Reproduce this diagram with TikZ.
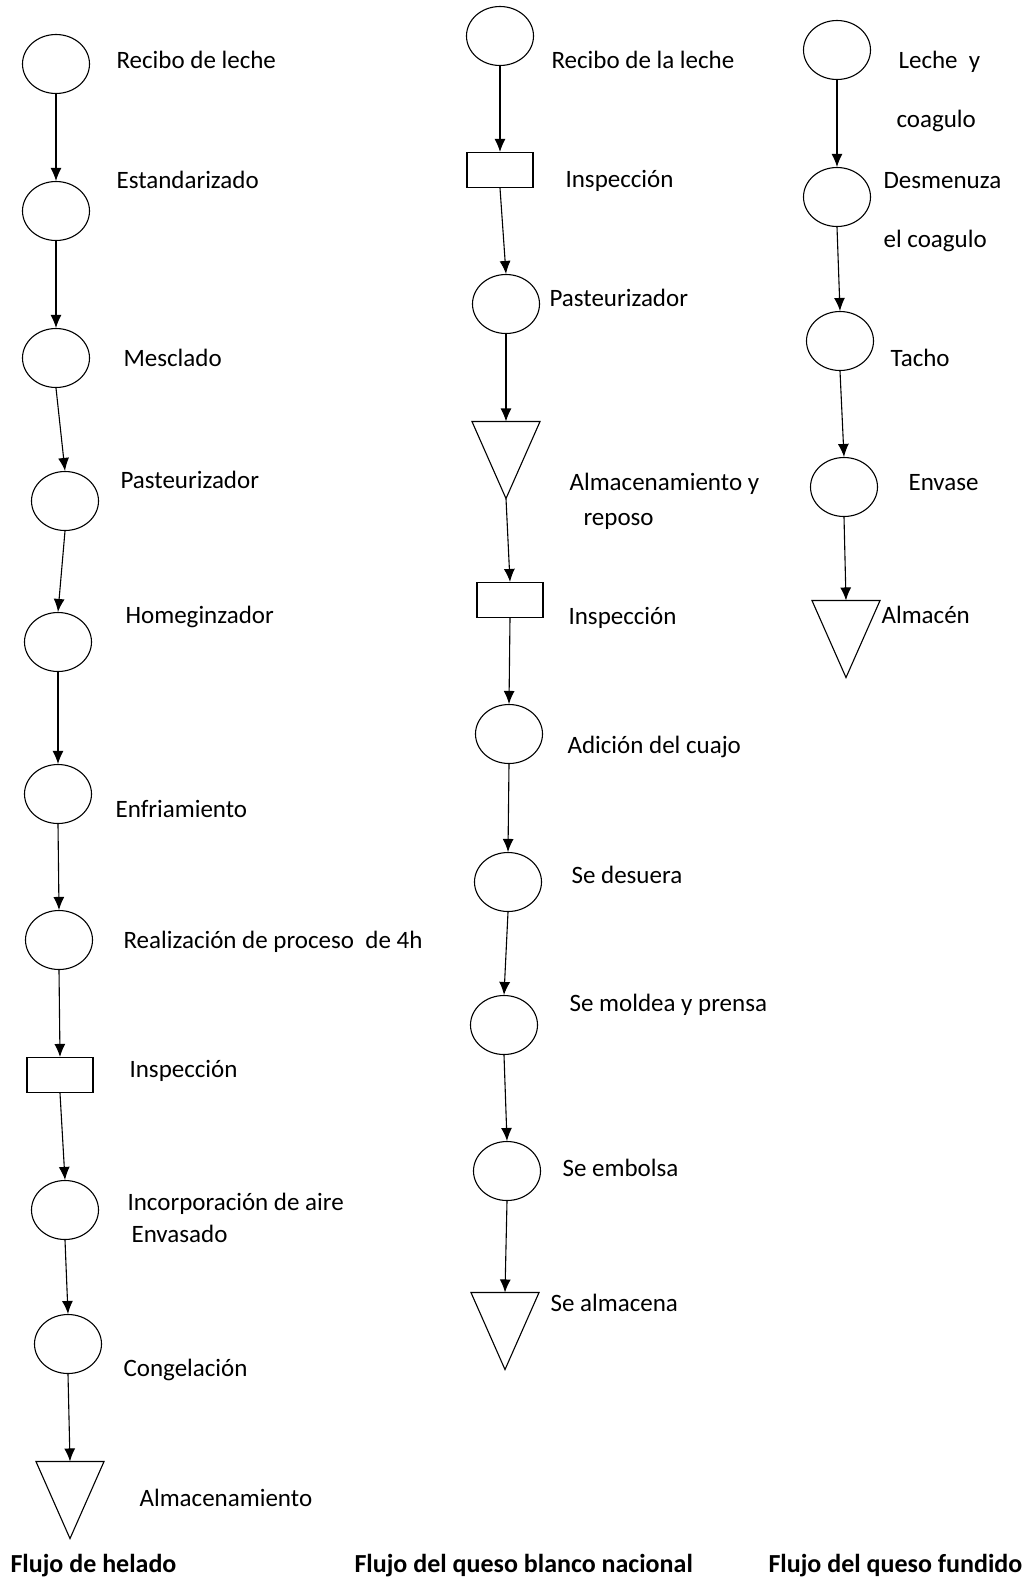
\documentclass[tikz,border=0pt]{standalone}
\usepackage{fontspec}
\setmainfont{Carlito}
\usetikzlibrary{shapes.geometric,arrows.meta}

\begin{document}
\begin{tikzpicture}[x=1pt,y=-1pt,line width=1.1pt,
  op/.style={draw,ellipse,minimum width=67,minimum height=59,inner sep=0pt},
  insp/.style={draw,rectangle,minimum width=66,minimum height=35,inner sep=0pt},
  alm/.style={rectangle,minimum width=67,minimum height=76,inner sep=0pt},
  lbl/.style={anchor=base west,inner sep=0pt,font=\fontsize{25}{30}\selectfont},
  ttl/.style={lbl,font=\fontsize{26}{31}\selectfont\bfseries},
  flow/.style={-{Latex[length=13pt,width=11pt]},line width=1.1pt}]
  \useasboundingbox (0,0) rectangle (1024,1579);
  % helado
  \path (56,64) node[op] (h1) {} (56,211) node[op] (h2) {} (56,358) node[op] (h3) {}
  (65,501) node[op] (h4) {} (58,642) node[op] (h5) {} (58,794) node[op] (h6) {}
  (59,940) node[op] (h7) {} (60,1075) node[insp] (h8) {} (65,1210) node[op] (h9) {}
  (68,1344) node[op] (h10) {} (70,1500) node[alm] (h11) {};
  % queso blanco
  \path (500,36) node[op] (b1) {} (500,170) node[insp] (b2) {} (506,304) node[op] (b3) {}
  (506,460) node[alm] (b4) {} (510,600) node[insp] (b5) {} (509,734) node[op] (b6) {}
  (508,882) node[op] (b7) {} (504,1025) node[op] (b8) {} (507,1171) node[op] (b9) {}
  (505,1331) node[alm] (b10) {};
  % queso fundido
  \path (837,50) node[op] (f1) {} (837,197) node[op] (f2) {} (840,341) node[op] (f3) {}
  (844,487) node[op] (f4) {} (846,639) node[alm] (f5) {};
  \foreach \t in {h11,b4,b10,f5}
    \draw (\t.north west) -- (\t.north east) -- (\t.south) -- cycle;
  \foreach \a/\b in {h1/h2,h2/h3,h3/h4,h4/h5,h5/h6,h6/h7,h7/h8,h8/h9,h9/h10,h10/h11,
    b1/b2,b2/b3,b3/b4,b4/b5,b5/b6,b6/b7,b7/b8,b8/b9,b9/b10,f1/f2,f2/f3,f3/f4,f4/f5}
    \draw[flow] (\a.south) -- (\b.north);
  % textos
  \path (116,68) node[lbl] (lh1) {Recibo de leche}
  (116,188) node[lbl] (lh2) {Estandarizado}
  (123,366) node[lbl] (lh3) {Mesclado}
  (120,488) node[lbl] (lh4) {Pasteurizador}
  (125,623) node[lbl] (lh5) {Homeginzador}
  (115,817) node[lbl] (lh6) {Enfriamiento}
  (123,948) node[lbl] (lh7) {Realización de proceso~ de 4h}
  (129,1077) node[lbl] (lh8) {Inspección}
  (127,1210) node[lbl] (lh9) {Incorporación de aire}
  (131,1242) node[lbl] (lh9b) {Envasado}
  (123,1376) node[lbl] (lh10) {Congelación}
  (139,1506) node[lbl] (lh11) {Almacenamiento};
  \path (551,68) node[lbl] (lb1) {Recibo de la leche}
  (565,187) node[lbl] (lb2) {Inspección}
  (549,306) node[lbl] (lb3) {Pasteurizador}
  (569,490) node[lbl] (lb4) {Almacenamiento y}
  (583,525) node[lbl] (lb4b) {reposo}
  (568,624) node[lbl] (lb5) {Inspección}
  (567,753) node[lbl] (lb6) {Adición del cuajo}
  (571,883) node[lbl] (lb7) {Se desuera}
  (569,1011) node[lbl] (lb8) {Se moldea y prensa}
  (562,1176) node[lbl] (lb9) {Se embolsa}
  (550,1311) node[lbl] (lb10) {Se almacena};
  \path (898,68) node[lbl] (lf1) {Leche~ y}
  (896,127) node[lbl] (lf1b) {coagulo}
  (883,188) node[lbl] (lf2) {Desmenuza}
  (883,247) node[lbl] (lf2b) {el coagulo}
  (890,366) node[lbl] (lf3) {Tacho}
  (908,490) node[lbl] (lf4) {Envase}
  (881,623) node[lbl] (lf5) {Almacén};
  \path (10,1572) node[ttl] (th) {Flujo de helado}
  (354,1572) node[ttl] (tb) {Flujo del queso blanco nacional}
  (768,1572) node[ttl] (tf) {Flujo del queso fundido};
\end{tikzpicture}
\end{document}
